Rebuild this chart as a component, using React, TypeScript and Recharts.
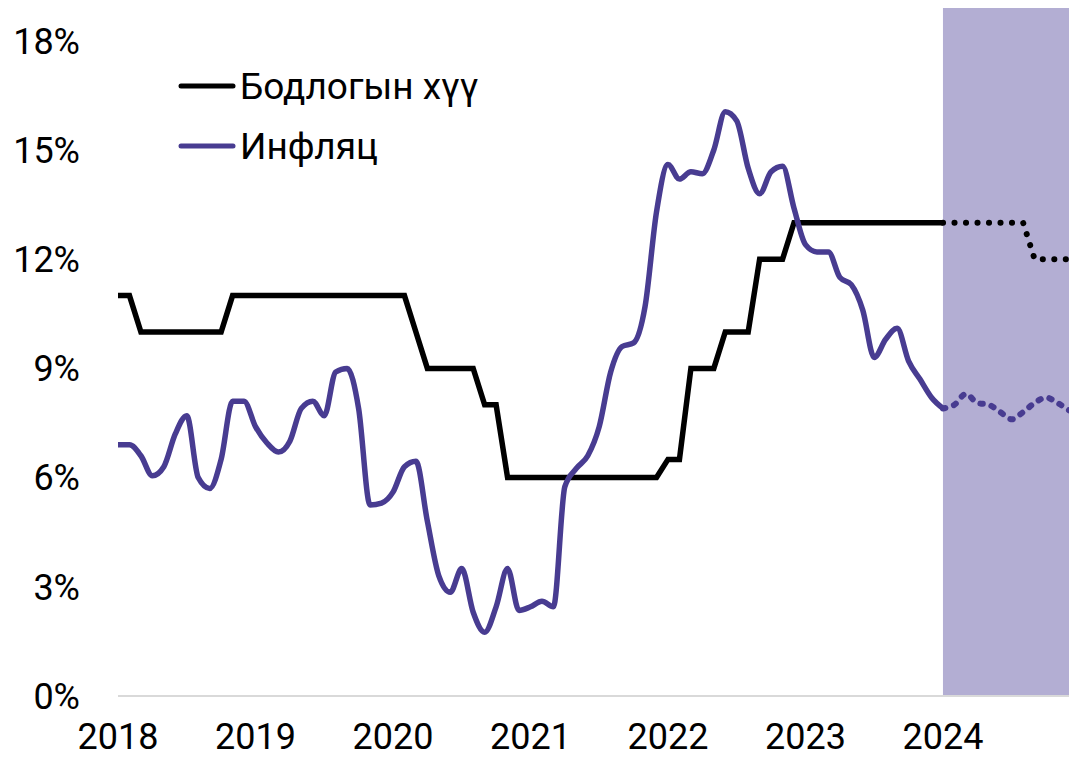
import { LineChart, Line, XAxis, YAxis, ReferenceArea } from 'recharts'

const years = ['2018', '2019', '2020', '2021', '2022', '2023', '2024']
const months = years.flatMap((y) =>
  ['01', '02', '03', '04', '05', '06', '07', '08', '09', '10', '11', '12'].map((m) => `${y}-${m}`)
)

// бодлогын хүү, сар бүр
const policyRate = [
  11, 11, 10, 10, 10, 10, 10, 10, 10, 10, 11, 11,
  11, 11, 11, 11, 11, 11, 11, 11, 11, 11, 11, 11,
  11, 11, 10, 9, 9, 9, 9, 9, 8, 8, 6, 6,
  6, 6, 6, 6, 6, 6, 6, 6, 6, 6, 6, 6,
  6.5, 6.5, 9, 9, 9, 10, 10, 10, 12, 12, 12, 13,
  13, 13, 13, 13, 13, 13, 13, 13, 13, 13, 13, 13,
  13, 13, 13, 13, 13, 13, 13, 13, 12, 12, 12, 12,
]

// инфляц, сар бүр
const inflation = [
  6.9, 6.9, 6.6, 6.05, 6.3, 7.2, 7.7, 6.0, 5.7, 6.5, 8.1, 8.1,
  7.4, 6.95, 6.7, 7.0, 7.9, 8.1, 7.7, 8.9, 9.0, 7.9, 5.25, 5.3,
  5.6, 6.3, 6.45, 4.8, 3.3, 2.85, 3.5, 2.3, 1.75, 2.45, 3.5, 2.35,
  2.45, 2.6, 2.45, 5.75, 6.25, 6.6, 7.4, 8.9, 9.6, 9.7, 10.7, 13.3,
  14.6, 14.2, 14.4, 14.35, 15.0, 16.05, 15.8, 14.5, 13.8, 14.4, 14.55, 13.4,
  12.4, 12.2, 12.2, 11.5, 11.3, 10.6, 9.3, 9.8, 10.1, 9.2, 8.7, 8.2,
  7.9, 8.0, 8.3, 8.05, 8.0, 7.8, 7.6, 7.8, 8.05, 8.2, 8.05, 7.85,
]

const yTicks = [0, 3, 6, 9, 12, 15, 18]
const forecastStart = 72 // 2024-01

const data = months.map((month, i) => ({
  month,
  rate: i <= forecastStart ? policyRate[i] : null,
  rateF: i >= forecastStart ? policyRate[i] : null,
  infl: i <= forecastStart ? inflation[i] : null,
  inflF: i >= forecastStart ? inflation[i] : null,
}))

const PURPLE = '#483C91'
const SHADE = '#B3AED3'

const legendItems = [
  { label: 'Бодлогын хүү', color: '#000000' },
  { label: 'Инфляц', color: PURPLE },
]

function CustomLegend() {
  return (
    <div style={{ position: 'absolute', left: 178, top: 56, fontFamily: 'Roboto', fontSize: 37, color: '#000' }}>
      {legendItems.map((it) => (
        <div key={it.label} style={{ display: 'flex', alignItems: 'center', height: 60 }}>
          <svg width={60} height={10} style={{ marginRight: 2 }}>
            <line x1={3} y1={5} x2={55} y2={5} stroke={it.color} strokeWidth={5} strokeLinecap="round" />
          </svg>
          <span>{it.label}</span>
        </div>
      ))}
    </div>
  )
}

export default function App() {
  return (
    <div style={{ position: 'absolute', left: 0, top: 0, width: 1069, height: 759, background: '#fff', fontFamily: 'Roboto' }}>
      <LineChart width={1069} height={759} data={data} margin={{ top: 8, right: 0, bottom: 0, left: 0 }}>
        <ReferenceArea x1="2024-01" x2="2024-12" fill={SHADE} fillOpacity={1} stroke="none" ifOverflow="hidden" />
        <XAxis
          dataKey="month"
          ticks={years.map((y) => `${y}-01`)}
          interval={0}
          tickFormatter={(v: string) => v.slice(0, 4)}
          tick={{ fontSize: 36, fill: '#000', fontFamily: 'Roboto' }}
          axisLine={{ stroke: '#D9D9D9', strokeWidth: 2 }}
          tickLine={false}
          tickMargin={21}
          height={63}
        />
        <YAxis
          domain={[0, 18.9]}
          ticks={yTicks}
          tickFormatter={(v: number) => `${v}%`}
          tick={{ fontSize: 36, fill: '#000', fontFamily: 'Roboto' }}
          axisLine={false}
          tickLine={false}
          tickMargin={32}
          width={118}
        />
        <Line dataKey="rate" stroke="#000" strokeWidth={5.5} type="linear" dot={false} isAnimationActive={false} />
        <Line
          dataKey="rateF"
          stroke="#000"
          strokeWidth={6}
          strokeDasharray="0.1 11.4"
          strokeLinecap="round"
          type="linear"
          dot={false}
          isAnimationActive={false}
        />
        <Line dataKey="infl" stroke={PURPLE} strokeWidth={5.5} type="monotone" dot={false} isAnimationActive={false} />
        <Line
          dataKey="inflF"
          stroke={PURPLE}
          strokeWidth={6}
          strokeDasharray="2.5 9"
          strokeLinecap="round"
          type="monotone"
          dot={false}
          isAnimationActive={false}
        />
      </LineChart>
      <CustomLegend />
    </div>
  )
}
